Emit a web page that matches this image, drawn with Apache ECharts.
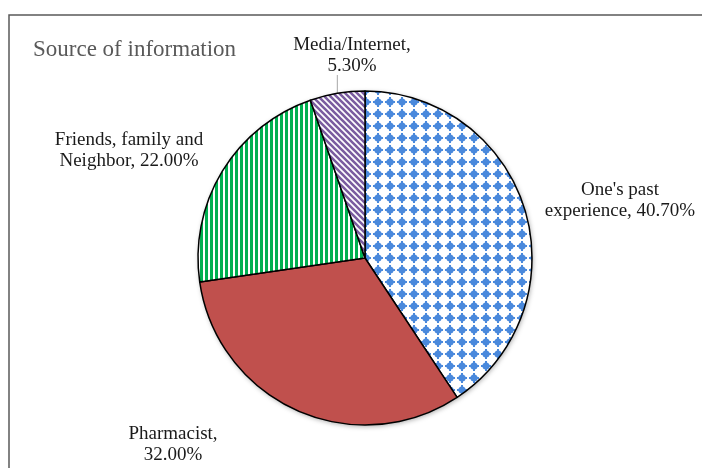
<!DOCTYPE html>
<html>
<head>
<meta charset="utf-8">
<script src="https://cdn.jsdelivr.net/npm/echarts@6/dist/echarts.min.js"></script>
<style>
  html, body { margin: 0; padding: 0; background: #fff; }
  #chart { width: 702px; height: 468px; }
</style>
</head>
<body>
<div id="chart"></div>
<script>
// Survey: where respondents got their information
const categories = ["One's past experience", "Pharmacist", "Friends, family and Neighbor", "Media/Internet"];
const shares = [40.7, 32.0, 22.0, 5.3];
const labelHeads = ["One's past\nexperience,", "Pharmacist,", "Friends, family and\nNeighbor,", "Media/Internet,"];
const labelJoin = [" ", "\n", " ", "\n"];
const chartTitle = "Source of information";

// ---- fill patterns ----
function makeTile(w, h, draw) {
  const c = document.createElement('canvas');
  c.width = w; c.height = h;
  const g = c.getContext('2d');
  g.fillStyle = '#ffffff';
  g.fillRect(0, 0, w, h);
  draw(g, w, h);
  return c;
}
// blue confetti dots
const dotTile = makeTile(12, 12, (g) => {
  g.fillStyle = '#4a89dc';
  g.beginPath();
  g.arc(6, 6, 3.6, 0, Math.PI * 2);
  g.fill();
  g.fillRect(5, 1, 2, 10);
  g.fillRect(1, 5, 10, 2);
});
// green vertical stripes
const stripeTile = makeTile(5, 5, (g) => {
  g.fillStyle = '#00b050';
  g.fillRect(0, 0, 3, 5);
});
// purple downward diagonal hatch
const hatchTile = makeTile(6, 6, (g) => {
  g.strokeStyle = '#7a5ca0';
  g.lineWidth = 2.6;
  g.beginPath();
  g.moveTo(-3, -3); g.lineTo(9, 9);
  g.moveTo(-3, 3); g.lineTo(3, 9);
  g.moveTo(3, -3); g.lineTo(9, 3);
  g.stroke();
});

const fills = [
  { image: dotTile, repeat: 'repeat' },
  '#c0504d',
  { image: stripeTile, repeat: 'repeat' },
  { image: hatchTile, repeat: 'repeat' }
];

// label anchor points (label block centres)
const labelSpots = [[620, 201], [173, 445], [129, 151], [352, 56]];

const pieCenter = [365, 258];
const pieRadius = 167;

const chart = echarts.init(document.getElementById('chart'), null, { renderer: 'canvas' });

chart.setOption({
  backgroundColor: '#ffffff',
  animation: false,
  title: {
    text: chartTitle,
    left: 28,
    top: 33,
    textStyle: {
      fontFamily: 'Liberation Serif',
      fontSize: 23,
      fontWeight: 'normal',
      color: '#595959'
    }
  },
  graphic: [{
    type: 'rect',
    shape: { x: 9, y: 15, width: 760, height: 520 },
    style: { fill: 'none', stroke: '#595959', lineWidth: 1.5 },
    silent: true
  }],
  series: [
    {
      // soft drop shadow under the pie
      type: 'pie',
      center: pieCenter,
      radius: pieRadius,
      silent: true,
      z: 1,
      label: { show: false },
      labelLine: { show: false },
      data: [{ value: shares.reduce((a, b) => a + b, 0) }],
      itemStyle: {
        color: '#ffffff',
        shadowBlur: 5,
        shadowColor: 'rgba(0,0,0,0.35)',
        shadowOffsetX: 1,
        shadowOffsetY: 1.5
      }
    },
    {
      type: 'pie',
      center: pieCenter,
      radius: pieRadius,
      startAngle: 90,
      clockwise: true,
      z: 2,
      avoidLabelOverlap: false,
      data: categories.map((name, i) => ({
        name: name,
        value: shares[i],
        itemStyle: { color: fills[i] },
        labelLine: { show: i === 3 }
      })),
      itemStyle: {
        borderColor: '#000000',
        borderWidth: 1.5
      },
      emphasis: { disabled: true },
      label: {
        show: true,
        position: 'outside',
        fontFamily: 'Liberation Serif',
        fontSize: 19,
        lineHeight: 21,
        color: '#1a1a1a',
        align: 'center',
        formatter: (p) => labelHeads[p.dataIndex] + labelJoin[p.dataIndex] + p.value.toFixed(2) + '%'
      },
      labelLine: {
        lineStyle: { color: '#a6a6a6', width: 1 }
      },
      labelLayout: (params) => {
        const i = params.dataIndex;
        const spot = labelSpots[i];
        const out = { x: spot[0], y: spot[1], align: 'center', verticalAlign: 'middle' };
        const pts = params.labelLinePoints;
        if (pts && i === 3) {
          const top = spot[1] + 19;
          out.labelLinePoints = [pts[0], [pts[0][0], top], [pts[0][0], top]];
        }
        return out;
      }
    }
  ]
});
</script>
</body>
</html>
